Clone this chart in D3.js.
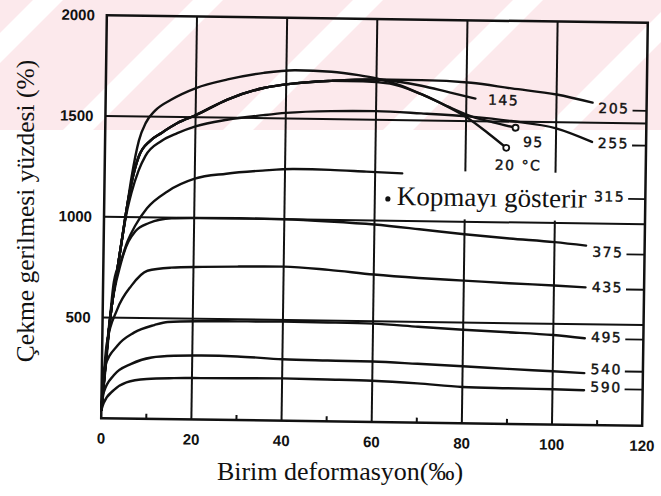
<!DOCTYPE html>
<html>
<head>
<meta charset="utf-8">
<script src="https://cdn.jsdelivr.net/npm/d3@7"></script>
<style>
body { margin: 0; background: #fff; }
svg { display: block; }
.tick-lbl { font-family: "Liberation Sans", Arial, sans-serif; font-weight: bold; font-size: 15px; fill: #111; }
.curve-lbl { font-family: "DejaVu Sans", sans-serif; font-size: 14px; letter-spacing: 1.5px; fill: #111; stroke: #111; stroke-width: 0.4px; }
.title { font-family: "Liberation Serif", "Times New Roman", serif; fill: #111; }
</style>
</head>
<body>
<svg width="661" height="496"></svg>
<script>
// tick values
var xTicks = [0, 20, 40, 60, 80, 100, 120];
var xMinor = [10, 30, 50, 70, 90, 110];
var yTicks = [500, 1000, 1500, 2000];
var yTickLabels = ["500", "1000", "1500", "2000"];

// curves: [birim deformasyon (‰), çekme gerilmesi (%)]
var s20  = [[0,40],[1,330],[2,560],[3,720],[4,880],[5,1040],[6,1200],[7.5,1380],[9,1470],[11,1530],[14.5,1585],[20,1645],[27,1690],[35,1725],[42,1740],[50,1735],[56,1720],[60,1705],[65,1675],[70,1630],[75,1580],[80,1520],[85,1440],[89,1370]];
var s95  = [[0,40],[1,330],[2,560],[3,720],[4,880],[5,1040],[6,1170],[7.5,1300],[10,1380],[12.5,1420],[16,1470],[20,1510],[27,1590],[35,1650],[42,1675],[50,1690],[57,1690],[63,1680],[70,1630],[76,1570],[81,1525],[86,1495],[91,1470]];
var s145 = [[0,40],[1,330],[2,560],[3,720],[4,880],[5,1040],[6,1170],[7.5,1300],[10,1380],[12.5,1420],[16,1470],[20,1510],[27,1590],[35,1650],[42,1675],[50,1690],[60,1700],[65,1690],[70,1672],[76,1642],[82,1612]];
var s205 = [[0,40],[1,330],[2,560],[3,720],[4,880],[5,1040],[6,1170],[7.5,1300],[10,1380],[12.5,1420],[16,1470],[20,1510],[27,1590],[35,1650],[42,1675],[50,1690],[60,1700],[70,1700],[81,1690],[90,1665],[100,1638],[108,1600]];
var s255 = [[0,40],[1,330],[2,560],[3,720],[4,880],[5,1020],[6,1120],[7.5,1230],[9,1305],[12.5,1380],[16,1420],[20,1455],[27,1490],[35,1515],[40,1528],[50,1540],[60,1543],[70,1535],[81,1522],[90,1503],[100,1470],[108,1405]];
var s315 = [[0,40],[1,300],[2.4,680],[4,790],[5.3,880],[7,960],[9.5,1045],[14,1130],[20,1195],[27,1222],[35,1240],[42,1250],[50,1248],[58,1242],[66,1236]];
var s375 = [[0,40],[1.5,470],[4,780],[7,930],[10,972],[15,997],[20,1000],[30,1002],[40,1000],[50,992],[60,980],[70,960],[80,938],[90,920],[100,905],[107,890]];
var s435 = [[0,40],[1,370],[3.2,540],[6.3,660],[9.8,735],[15,752],[22,758],[30,762],[40,765],[50,752],[60,732],[70,718],[80,708],[90,698],[100,690],[107,683]];
var s495 = [[0,40],[0.5,245],[3.4,362],[7,427],[11.5,466],[14.5,482],[22,488],[30,490],[40,492],[50,491],[60,488],[70,476],[80,464],[90,455],[100,444],[107,430]];
var s540 = [[0,40],[0.5,130],[2.7,215],[6.5,272],[11,305],[16,315],[22,318],[30,316],[40,305],[50,302],[60,300],[70,292],[80,283],[90,273],[100,264],[107,257]];
var s590 = [[0,40],[0.5,75],[2.7,140],[5.5,180],[10,198],[16,204],[22,206],[30,208],[40,210],[50,208],[60,205],[70,195],[80,180],[90,177],[100,175],[107,172]];

var curveNames = ["20", "95", "145", "205", "255", "315", "375", "435", "495", "540", "590"];
var curveValues = [s20, s95, s145, s205, s255, s315, s375, s435, s495, s540, s590];
var breakCurves = ["20", "95"];   // kopma noktası (açık daire)

// curve labels, placed where the picture has them
var labelText = ["20 °C", "95", "145", "205", "255", "315", "375", "435", "495", "540", "590"];
var labelX    = [86.5, 92.7, 84.8, 109.3, 109.3, 108.6, 108.4, 108.4, 108.4, 108.4, 108.4];
var labelY    = [1284, 1400, 1606, 1573, 1400, 1135, 859, 685, 437, 278, 189];

var legendText = "Kopmayı gösterir";

var svg = d3.select("svg"),
    W = +svg.attr("width"),
    H = +svg.attr("height");

// faint pink watermark stripes of the scan
var defs = svg.append("defs");
defs.append("clipPath").attr("id", "wm").append("rect")
    .attr("width", W).attr("height", 130);
var wm = svg.append("g").attr("clip-path", "url(#wm)");
wm.append("rect").attr("width", W).attr("height", 130).attr("fill", "#fce9ec");
d3.range(-1, 6).forEach(function(i) {
    var c = 33 + i * 160;
    wm.append("polygon")
        .attr("points", [[c, 0], [c + 30, 0], [c + 30 - 130, 130], [c - 130, 130]].join(" "))
        .attr("fill", "#fff");
});

var x = d3.scaleLinear().domain([0, 120]).range([104, 645]),
    y = d3.scaleLinear().domain([0, 2000]).range([422, 19]);

// the scan is a little tilted
var g = svg.append("g").attr("transform", "rotate(0.8,374,220)");

// grid
g.selectAll(".vgrid").data(xTicks.slice(1, -1)).enter().append("line")
    .attr("x1", d => x(d)).attr("x2", d => x(d))
    .attr("y1", y(0)).attr("y2", y(2000))
    .attr("stroke", "#111").attr("stroke-width", 2);
g.selectAll(".hgrid").data(yTicks.slice(0, -1)).enter().append("line")
    .attr("x1", x(0)).attr("x2", x(120))
    .attr("y1", d => y(d)).attr("y2", d => y(d))
    .attr("stroke", "#111").attr("stroke-width", 2);

// white box behind the legend text
g.append("rect")
    .attr("x", x(62)).attr("y", y(1250))
    .attr("width", x(119.5) - x(62)).attr("height", y(1012) - y(1250))
    .attr("fill", "#fff");

// frame
g.append("rect")
    .attr("x", x(0)).attr("y", y(2000))
    .attr("width", x(120) - x(0)).attr("height", y(0) - y(2000))
    .attr("fill", "none").attr("stroke", "#111").attr("stroke-width", 2.5);

// minor ticks on the bottom axis
g.selectAll(".minor").data(xMinor).enter().append("line")
    .attr("x1", d => x(d)).attr("x2", d => x(d))
    .attr("y1", y(0)).attr("y2", y(0) - 5)
    .attr("stroke", "#111").attr("stroke-width", 2);

// tick labels
g.selectAll(".xl").data(xTicks).enter().append("text")
    .attr("class", "tick-lbl")
    .attr("x", d => x(d)).attr("y", y(0) + 20)
    .attr("dy", "0.35em").attr("text-anchor", "middle")
    .text(d => d);
g.selectAll(".yl").data(yTicks).enter().append("text")
    .attr("class", "tick-lbl")
    .attr("x", x(0) - 12).attr("y", d => y(d))
    .attr("dy", "0.35em").attr("text-anchor", "end")
    .text((d, i) => yTickLabels[i]);

// curves
var line = d3.line()
    .curve(d3.curveMonotoneX)
    .x(d => x(d[0]))
    .y(d => y(d[1]));

g.selectAll(".curve").data(curveValues).enter().append("path")
    .attr("d", line)
    .attr("fill", "none")
    .attr("stroke", "#111")
    .attr("stroke-width", 2.4)
    .attr("stroke-linejoin", "round")
    .attr("stroke-linecap", "round");

// break points
breakCurves.forEach(function(name) {
    var v = curveValues[curveNames.indexOf(name)];
    var p = v[v.length - 1];
    g.append("circle")
        .attr("cx", x(p[0])).attr("cy", y(p[1])).attr("r", 3)
        .attr("fill", "#fff").attr("stroke", "#111").attr("stroke-width", 1.8);
});

// curve labels
labelText.forEach(function(t, i) {
    var lbl = g.append("text")
        .attr("class", "curve-lbl")
        .attr("x", x(labelX[i])).attr("y", y(labelY[i]))
        .attr("dy", "0.35em")
        .text(t);
    if (labelX[i] > 100) {
        var w = lbl.node().getComputedTextLength();
        g.append("line")
            .attr("x1", x(labelX[i]) + w + 3).attr("x2", x(120))
            .attr("y1", y(labelY[i]) + 2).attr("y2", y(labelY[i]) + 2)
            .attr("stroke", "#111").attr("stroke-width", 1.8);
    }
});

// legend
g.append("circle")
    .attr("cx", x(62.9)).attr("cy", y(1108)).attr("r", 2.6)
    .attr("fill", "#111");
g.append("text")
    .attr("class", "title")
    .attr("x", x(64.9)).attr("y", y(1078))
    .attr("font-size", 27)
    .text(legendText);

// axis titles
svg.append("text")
    .attr("class", "title")
    .attr("transform", "translate(34,211) rotate(-90)")
    .attr("text-anchor", "middle")
    .attr("font-size", 25.5)
    .text("Çekme gerilmesi yüzdesi (%)");
svg.append("text")
    .attr("class", "title")
    .attr("x", 340).attr("y", 480)
    .attr("text-anchor", "middle")
    .attr("font-size", 26)
    .text("Birim deformasyon(‰)");
</script>
</body>
</html>
